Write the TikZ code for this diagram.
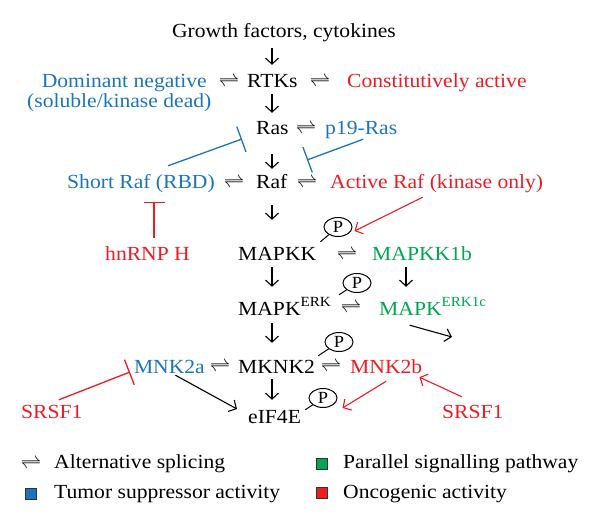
\documentclass[tikz,border=0pt]{standalone}
\usepackage{fontspec}
\setmainfont{Liberation Serif}[FakeStretch=1.08]
\usetikzlibrary{arrows.meta,calc,shapes.geometric}
\definecolor{cblue}{RGB}{28,117,188}
\definecolor{cred}{RGB}{237,28,36}
\definecolor{cgreen}{RGB}{0,166,81}
\newcommand\mysup[1]{\raisebox{9pt}{\fontsize{14}{14}\selectfont #1}}
\begin{document}
\begin{tikzpicture}[x=1pt,y=-1pt,
 lbl/.style={inner sep=0pt, text height=14pt, text depth=4pt, font=\fontsize{20}{24}\selectfont},
 harp/.style={inner sep=0pt, font=\fontsize{20.5}{20.5}\selectfont},
 arr/.style={line width=1.1pt, -{Straight Barb[length=6pt,width=13pt]}},
 inh/.style={line width=1.3pt, -{Bar[width=27pt]}},
 inhs/.style={line width=1.3pt, -{Bar[width=21pt]}},
 pnode/.style={ellipse, draw, line width=1pt, minimum width=28pt, minimum height=19pt, inner sep=0pt, font=\fontsize{17}{17}\selectfont},
 stick/.style={line width=1pt},
 sq/.style={draw=black!80, line width=0.6pt, minimum size=11pt, inner sep=0pt}
]
\fill[white] (0,0) rectangle (600,527);
\useasboundingbox (0,0) rectangle (600,527);

% rows
\node[lbl,anchor=base] (gf) at (284,38) {Growth factors, cytokines};
\node[lbl,anchor=base east,text=cblue] (dn) at (207,88) {Dominant negative};
\node[lbl,anchor=base west,text=cblue] (sol) at (27,107) {(soluble/kinase dead)};
\node[harp] (h1) at (229,82) {$\rightleftharpoons$};
\node[lbl,anchor=base west] (rtk) at (247,88) {RTKs};
\node[harp] (h2) at (320,82) {$\rightleftharpoons$};
\node[lbl,anchor=base west,text=cred] (ca) at (347,88) {Constitutively active};

\node[lbl,anchor=base west] (ras) at (256,134) {Ras};
\node[harp] (h3) at (306,129) {$\rightleftharpoons$};
\node[lbl,anchor=base west,text=cblue] (p19) at (325,134) {p19-Ras};

\node[lbl,anchor=base east,text=cblue] (sr) at (215,188) {Short Raf (RBD)};
\node[harp] (h4) at (234,183) {$\rightleftharpoons$};
\node[lbl,anchor=base west] (raf) at (256,188) {Raf};
\node[harp] (h5) at (307,183) {$\rightleftharpoons$};
\node[lbl,anchor=base west,text=cred] (ar) at (330,188) {Active Raf (kinase only)};

\node[lbl,anchor=base west,text=cred] (hn) at (105,260) {hnRNP H};
\node[lbl,anchor=base west] (mapkk) at (238,260) {MAPKK};
\node[harp] (h6) at (347,255) {$\rightleftharpoons$};
\node[lbl,anchor=base west,text=cgreen] (mapkk1b) at (372,260) {MAPKK1b};

\node[lbl,anchor=base west] (mapk) at (238,315) {MAPK\mysup{ERK}};
\node[harp] (h7) at (351,308) {$\rightleftharpoons$};
\node[lbl,anchor=base west,text=cgreen] (erk1c) at (379,315) {MAPK\mysup{ERK1c}};

\node[lbl,anchor=base east,text=cblue] (mnk2a) at (205,373) {MNK2a};
\node[harp] (h8) at (220,367) {$\rightleftharpoons$};
\node[lbl,anchor=base west] (mknk2) at (238,373) {MKNK2};
\node[harp] (h9) at (331,367) {$\rightleftharpoons$};
\node[lbl,anchor=base west,text=cred] (mnk2b) at (350,373) {MNK2b};
\node[lbl,anchor=base west] (eif) at (248,423) {eIF4E};
\node[lbl,anchor=base west,text=cred] (s1) at (21,418) {SRSF1};
\node[lbl,anchor=base west,text=cred] (s2) at (442,418) {SRSF1};

% phospho tags
\node[pnode] (p1) at (338,227) {P};
\node[pnode] (p2) at (357,283) {P};
\node[pnode] (p3) at (339,342) {P};
\node[pnode] (p4) at (323,398) {P};

% legend
\node[harp] (lh) at (31,464) {$\rightleftharpoons$};
\node[lbl,anchor=base west] (l1) at (54,468) {Alternative splicing};
\node[sq,fill=cgreen] (lg) at (321.5,463.5) {};
\node[lbl,anchor=base west] (l2) at (343,468) {Parallel signalling pathway};
\node[sq,fill=cblue] (lb) at (30.5,493.5) {};
\node[lbl,anchor=base west] (l3) at (54,498) {Tumor suppressor activity};
\node[sq,fill=cred] (lr) at (321.5,492.5) {};
\node[lbl,anchor=base west] (l4) at (343,498) {Oncogenic activity};

% helper coordinates
\coordinate (ax) at (272,0);
\coordinate (ax2) at (406,0);
\coordinate (iR) at (242,139);
\coordinate (iP) at (307,160);
\coordinate (iH) at (154,202);
\coordinate (iM) at (130,372);
\coordinate (out) at (452,337);

% main cascade arrows
\draw[arr] ($(ax |- gf.south)+(0,6)$) -- ($(ax |- rtk.north)+(0,-9)$);
\draw[arr] ($(ax |- rtk.south)+(0,2)$) -- ($(ax |- ras.north)+(0,-7)$);
\draw[arr] ($(ax |- ras.south)+(0,16)$) -- ($(ax |- raf.north)+(0,-5)$);
\draw[arr] ($(ax |- raf.south)+(0,13)$) -- ($(ax |- mapkk.north)+(0,-26)$);
\draw[arr] ($(ax |- mapkk.south)+(0,3)$) -- ($(ax |- mapk.north)+(0,-14)$);
\draw[arr] ($(ax2 |- mapkk1b.south)+(0,3)$) -- ($(ax2 |- erk1c.north)+(0,-14)$);
\draw[arr] ($(ax |- mapk.south)+(0,4)$) -- ($(ax |- mknk2.north)+(0,-16)$);
\draw[arr] ($(ax |- mknk2.south)+(0,2)$) -- ($(ax |- eif.north)+(0,-9)$);
\draw[arr] ($(erk1c.south)+(-23,6)$) -- (out);
\draw[arr] ($(mnk2a.south)+(6,-2)$) -- ($(eif.west)+(-11,-9)$);

% inhibitions
\draw[inh,cblue] ($(sr.north east)+(-47,-8)$) -- (iR);
\draw[inh,cblue] ($(p19.south)+(2,1)$) -- (iP);
\draw[inhs,cred] ($(hn.north -| iH)+(0,-8)$) -- (iH);
\draw[inh,cred] ($(s1.north)+(7,-4)$) -- (iM);

% red activations
\draw[arr,cred] ($(ar.south)+(-14,5)$) -- ($(p1.east)+(2,4)$);
\draw[arr,cred] ($(mnk2b.south)+(0,4)$) -- ($(p4.east)+(5,10)$);
\draw[arr,cred] ($(s2.north)+(-11,-7)$) -- ($(mnk2b.south east)+(-3,0)$);

% sticks of phospho tags
\draw[stick] ($(mapkk.north east)+(4,-4)$) -- (p1);
\draw[stick] ($(mapk.north east)+(8,-6)$) -- (p2);
\draw[stick] ($(mknk2.north east)+(3,-3)$) -- (p3);
\draw[stick] ($(eif.north east)+(4,1)$) -- (p4);
\end{tikzpicture}
\end{document}
